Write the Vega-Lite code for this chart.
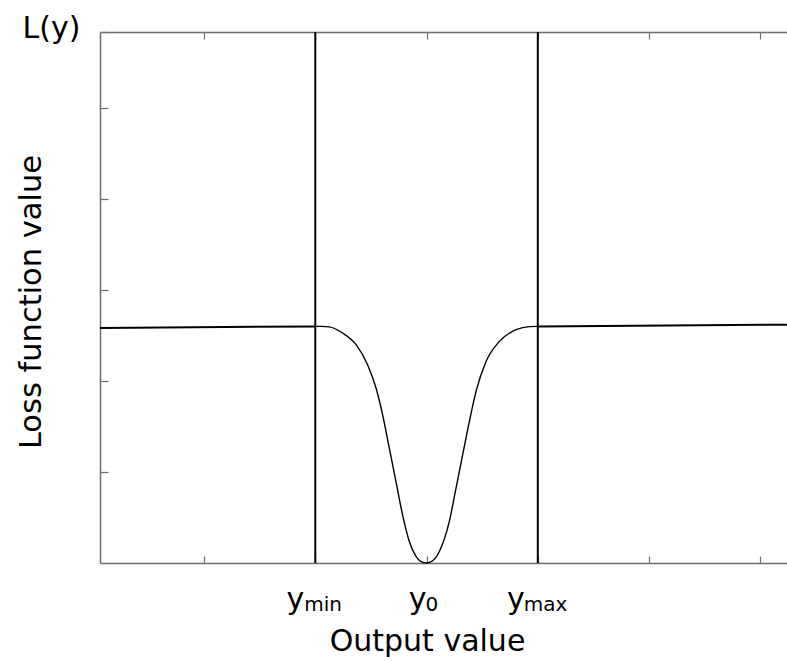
{
  "$schema": "https://vega.github.io/schema/vega-lite/v6.json",
  "width": 687,
  "height": 531,
  "autosize": {"type": "none"},
  "padding": {"left": 100, "top": 32, "right": 0, "bottom": 98},
  "background": "white",
  "config": {
    "view": {"stroke": null},
    "font": "DejaVu Sans",
    "axis": {
      "grid": false,
      "domainColor": "#6e6e6e",
      "domainWidth": 1.5,
      "tickColor": "#6e6e6e",
      "tickWidth": 1.2,
      "labelFont": "DejaVu Sans",
      "titleFont": "DejaVu Sans",
      "titleFontWeight": "normal",
      "titleColor": "#000000",
      "labelColor": "#000000"
    }
  },
  "datasets": {
    "curve": [
      {"part": "left", "output": 0.065, "loss": 2.582},
      {"part": "left", "output": 2.0, "loss": 2.6},
      {"part": "dip", "output": 2.0, "loss": 2.6},
      {"part": "dip", "output": 2.06, "loss": 2.6},
      {"part": "dip", "output": 2.126, "loss": 2.595},
      {"part": "dip", "output": 2.246, "loss": 2.527},
      {"part": "dip", "output": 2.367, "loss": 2.399},
      {"part": "dip", "output": 2.47, "loss": 2.179},
      {"part": "dip", "output": 2.546, "loss": 1.923},
      {"part": "dip", "output": 2.605, "loss": 1.63},
      {"part": "dip", "output": 2.665, "loss": 1.264},
      {"part": "dip", "output": 2.725, "loss": 0.897},
      {"part": "dip", "output": 2.784, "loss": 0.531},
      {"part": "dip", "output": 2.845, "loss": 0.237},
      {"part": "dip", "output": 2.905, "loss": 0.073},
      {"part": "dip", "output": 2.95, "loss": 0.015},
      {"part": "dip", "output": 3.0, "loss": 0.0},
      {"part": "dip", "output": 3.05, "loss": 0.02},
      {"part": "dip", "output": 3.115, "loss": 0.127},
      {"part": "dip", "output": 3.205, "loss": 0.457},
      {"part": "dip", "output": 3.265, "loss": 0.824},
      {"part": "dip", "output": 3.325, "loss": 1.19},
      {"part": "dip", "output": 3.385, "loss": 1.556},
      {"part": "dip", "output": 3.445, "loss": 1.886},
      {"part": "dip", "output": 3.535, "loss": 2.215},
      {"part": "dip", "output": 3.655, "loss": 2.435},
      {"part": "dip", "output": 3.805, "loss": 2.564},
      {"part": "dip", "output": 3.924, "loss": 2.598},
      {"part": "dip", "output": 4.0, "loss": 2.6},
      {"part": "right", "output": 4.0, "loss": 2.6},
      {"part": "right", "output": 6.24, "loss": 2.619}
    ],
    "bounds": [
      {"pos": 2, "name": "ymin"},
      {"pos": 4, "name": "ymax"}
    ],
    "labels": [
      {"pos": 2, "base": "y", "sub": "min"},
      {"pos": 3, "base": "y", "sub": "0"},
      {"pos": 4, "base": "y", "sub": "max"}
    ]
  },
  "layer": [
    {
      "data": {"name": "curve"},
      "mark": {"type": "line", "color": "#000000", "interpolate": "monotone"},
      "encoding": {
        "x": {
          "field": "output",
          "type": "quantitative",
          "scale": {"domain": [0.065, 6.24], "nice": false, "zero": false},
          "axis": {
            "orient": "bottom",
            "values": [1, 2, 3, 4, 5, 6],
            "labels": false,
            "tickSize": -7,
            "title": "Output value",
            "titleFontSize": 30,
            "titleX": 327,
            "titleY": 87,
            "titleAlign": "center",
            "titleBaseline": "alphabetic"
          }
        },
        "y": {
          "field": "loss",
          "type": "quantitative",
          "scale": {"domain": [0, 5.835], "nice": false, "zero": false},
          "axis": {
            "orient": "left",
            "values": [1, 2, 3, 4, 5, 5.835],
            "tickSize": -8,
            "labelExpr": "datum.value > 5.5 ? 'L(y)' : ''",
            "labelFontSize": 30,
            "labelPadding": 28,
            "labelBaseline": "alphabetic",
            "labelOffset": 5,
            "labelFlush": false,
            "labelOverlap": false,
            "labelBound": false,
            "title": "Loss function value",
            "titleFontSize": 30.5,
            "titleX": -60,
            "titleY": 269.5,
            "titleAngle": -90,
            "titleAlign": "center",
            "titleBaseline": "alphabetic"
          }
        },
        "detail": {"field": "part"},
        "strokeWidth": {
          "condition": {"test": "datum.part === 'dip'", "value": 1.4},
          "value": 2
        }
      }
    },
    {
      "data": {"name": "bounds"},
      "mark": {"type": "rule", "color": "#000000", "strokeWidth": 2},
      "encoding": {
        "x": {
          "field": "pos",
          "type": "quantitative",
          "scale": {"domain": [0.065, 6.24], "nice": false, "zero": false},
          "axis": {
            "orient": "top",
            "values": [1, 2, 3, 4, 5, 6],
            "labels": false,
            "tickSize": -7,
            "title": null
          }
        }
      }
    },
    {
      "data": {"name": "labels"},
      "mark": {
        "type": "text",
        "font": "DejaVu Sans",
        "fontSize": 30,
        "color": "#000000",
        "align": "right",
        "baseline": "alphabetic",
        "dx": {"expr": "datum.sub === 'min' ? -11 : datum.sub === '0' ? 0 : -13"}
      },
      "encoding": {
        "x": {"field": "pos", "type": "quantitative", "axis": null},
        "y": {"datum": -0.51, "type": "quantitative"},
        "text": {"field": "base"}
      }
    },
    {
      "data": {"name": "labels"},
      "mark": {
        "type": "text",
        "font": "DejaVu Sans",
        "fontSize": 20,
        "color": "#000000",
        "align": "left",
        "baseline": "alphabetic",
        "dy": 2,
        "dx": {"expr": "datum.sub === 'min' ? -11 : datum.sub === '0' ? -1 : -14"}
      },
      "encoding": {
        "x": {"field": "pos", "type": "quantitative", "axis": null},
        "y": {"datum": -0.51, "type": "quantitative"},
        "text": {"field": "sub"}
      }
    }
  ],
  "resolve": {"axis": {"x": "independent"}}
}
